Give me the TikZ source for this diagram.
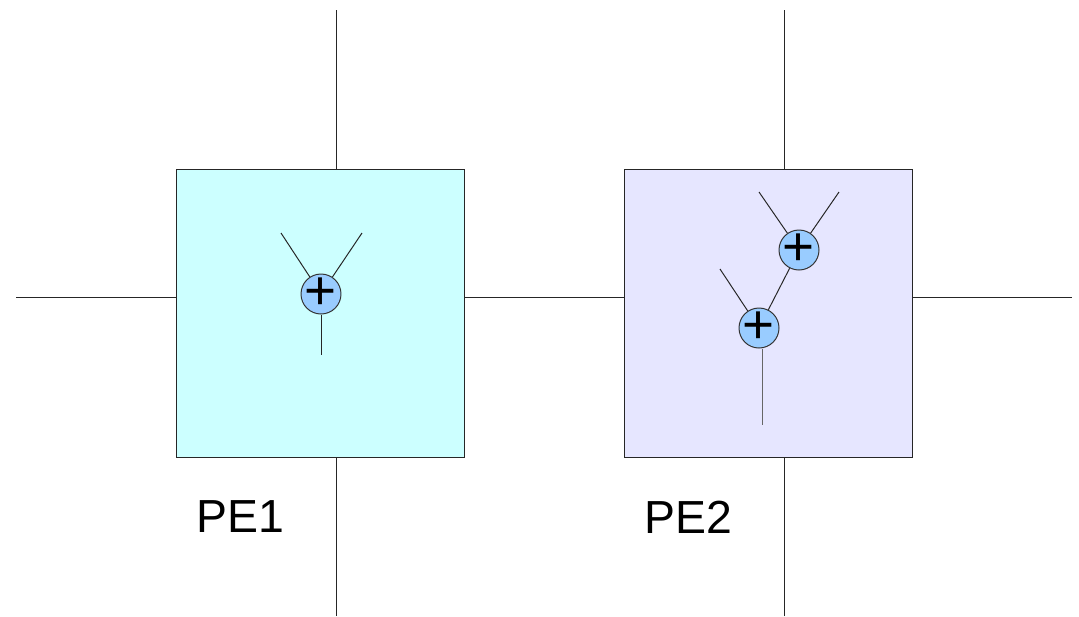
\documentclass[tikz,border=0pt]{standalone}
\usepackage{fontspec}
\setmainfont{Liberation Sans}
\usepackage{tikz}
\usetikzlibrary{calc}
\definecolor{pecyan}{HTML}{CCFFFF}
\definecolor{pelav}{HTML}{E6E6FF}
\definecolor{addblue}{HTML}{99CCFF}
\tikzset{
  pe/.style    = {draw=black!85, line width=0.7pt, minimum size=72mm, inner sep=0pt},
  add/.style   = {circle, draw=black!80, line width=0.7pt, fill=addblue,
                  minimum size=10mm, inner sep=0pt,
                  label={[inner sep=0pt, font=\fontsize{39}{39}\selectfont]center:+}},
  wire/.style  = {line width=0.7pt, black!85},
  lbl/.style   = {font=\fontsize{33}{33}\selectfont},
}
\begin{document}
\begin{tikzpicture}[x=0.25mm, y=-0.25mm]
  \useasboundingbox (0,0) rectangle (1079,616);
  \node[pe, fill=pecyan] (pe1) at (320,313) {};
  \node[pe, fill=pelav]  (pe2) at (768,313) {};
  \node[lbl] (l1) at (240,517) {PE1};
  \node[lbl] (l2) at (688,517) {PE2};
  % grid links
  \coordinate (n1) at (336,10);  \coordinate (s1) at (336,616);
  \coordinate (n2) at (784,10);  \coordinate (s2) at (784,616);
  \coordinate (w)  at (16,297);  \coordinate (e)  at (1072,297);
  \draw[wire] (n1) -- (n1 |- pe1.north);
  \draw[wire] (s1) -- (s1 |- pe1.south);
  \draw[wire] (n2) -- (n2 |- pe2.north);
  \draw[wire] (s2) -- (s2 |- pe2.south);
  \draw[wire] (w) -- (pe1.west |- w);
  \draw[wire] (pe1.east |- w) -- (pe2.west |- w);
  \draw[wire] (pe2.east |- e) -- (e);
  % PE1: one adder
  \node[add] (a1) at (321,294) {};
  \coordinate (a1x) at (281,233); \coordinate (a1y) at (362,233);
  \coordinate (a1o) at (321,355);
  \draw[wire] (a1x) -- (a1); \draw[wire] (a1y) -- (a1);
  \draw[wire] (a1) -- (a1o);
  % PE2: two adders in a chain
  \node[add] (hi) at (799,250) {};
  \node[add] (lo) at (759,328) {};
  \coordinate (hix) at (759,192); \coordinate (hiy) at (839,192);
  \coordinate (lox) at (720,269); \coordinate (loo) at (762,425);
  \draw[wire] (hix) -- (hi); \draw[wire] (hiy) -- (hi);
  \draw[wire] (lox) -- (lo); \draw[wire] (hi) -- (lo);
  \draw[wire, black!60] (lo.south -| loo) -- (loo);
\end{tikzpicture}
\end{document}
